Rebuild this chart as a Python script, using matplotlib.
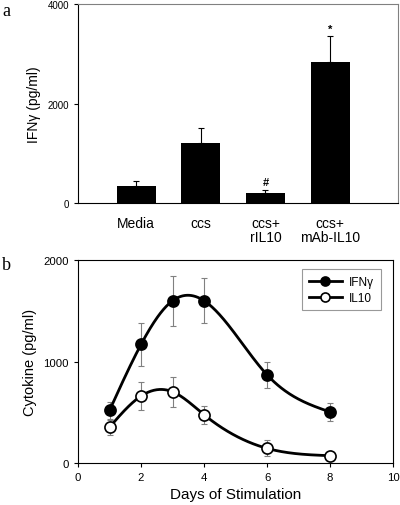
import numpy as np
import matplotlib
matplotlib.use("Agg")
import matplotlib.pyplot as plt

plt.rcParams['font.family'] = ['Liberation Sans', 'DejaVu Sans']

# Panel a data
categories = ["Media", "ccs", "ccs+\nrIL10", "ccs+\nmAb-IL10"]
ifng_bar = [350, 1200, 200, 2830]
ifng_bar_err = [100, 300, 60, 520]
bar_marks = ["", "", "#", "*"]

# Panel b data
days = [1, 2, 3, 4, 6, 8]
ifng = [520, 1170, 1600, 1600, 870, 505]
ifng_err = [85, 210, 245, 220, 125, 90]
il10 = [355, 662, 704, 478, 147, 75]
il10_err = [75, 135, 150, 90, 80, 10]


def natural_spline(x, y, n=300):
    x = np.asarray(x, float); y = np.asarray(y, float)
    k = len(x); h = np.diff(x)
    A = np.zeros((k, k)); b = np.zeros(k)
    A[0, 0] = 1; A[-1, -1] = 1
    for i in range(1, k - 1):
        A[i, i - 1] = h[i - 1]; A[i, i] = 2 * (h[i - 1] + h[i]); A[i, i + 1] = h[i]
        b[i] = 3 * ((y[i + 1] - y[i]) / h[i] - (y[i] - y[i - 1]) / h[i - 1])
    c = np.linalg.solve(A, b)
    xs = np.linspace(x[0], x[-1], n); ys = np.empty_like(xs)
    for j, xv in enumerate(xs):
        i = min(np.searchsorted(x, xv, side='right') - 1, k - 2)
        dx = xv - x[i]
        bi = (y[i + 1] - y[i]) / h[i] - h[i] * (c[i + 1] + 2 * c[i]) / 3
        di = (c[i + 1] - c[i]) / (3 * h[i])
        ys[j] = y[i] + bi * dx + c[i] * dx ** 2 + di * dx ** 3
    return xs, ys


fig = plt.figure(figsize=(4.0, 5.06), dpi=100)

# ---- Panel a ----
ax1 = fig.add_axes([0.195, 0.5968, 0.80, 0.3932])
xpos = np.arange(1, len(categories) + 1)
ax1.bar(xpos, ifng_bar, width=0.6, color='black', zorder=2)
ax1.errorbar(xpos, ifng_bar, yerr=[np.zeros(len(xpos)), ifng_bar_err], fmt='none',
             ecolor='black', elinewidth=0.8, capsize=2.5, capthick=0.8, zorder=1)
for x, v, e, m in zip(xpos, ifng_bar, ifng_bar_err, bar_marks):
    if m:
        ax1.text(x, v + e + 60, m, ha='center', va='bottom', fontsize=8, fontweight='bold')
ax1.set_xlim(0.1, 5.05)
ax1.set_ylim(0, 4000)
ax1.set_yticks([0, 2000, 4000])
ax1.tick_params(axis='y', labelsize=7, length=3, width=0.8, direction='out')
ax1.set_xticks(xpos)
ax1.set_xticklabels(categories, fontsize=10, linespacing=1.05)
ax1.tick_params(axis='x', length=0, pad=9)
ax1.set_ylabel("IFNγ (pg/ml)", fontsize=10, labelpad=5)
for s in ['top', 'right']:
    ax1.spines[s].set_color('#808080')
    ax1.spines[s].set_linewidth(0.8)
for s in ['left', 'bottom']:
    ax1.spines[s].set_linewidth(0.8)
fig.text(0.005, 0.995, "a", fontsize=13, family='Liberation Serif', va='top')

# ---- Panel b ----
ax2 = fig.add_axes([0.195, 0.0824, 0.788, 0.4016])
for yv, ye, face, lab in [(ifng, ifng_err, 'black', 'IFNγ'), (il10, il10_err, 'white', 'IL10')]:
    xs, ys = natural_spline(days, yv)
    ax2.errorbar(days, yv, yerr=ye, fmt='none', ecolor='#808080', elinewidth=0.8,
                 capsize=2.5, capthick=0.8, zorder=1)
    ax2.plot(xs, ys, color='black', lw=2, zorder=2)
    ax2.plot(days, yv, 'o', color='black', mfc=face, mec='black', ms=8, mew=1.2, zorder=3)
    ax2.plot([], [], '-o', color='black', mfc=face, mec='black', ms=6.5, mew=1.2, lw=2, label=lab)
ax2.set_xlim(0, 10)
ax2.set_ylim(0, 2000)
ax2.set_xticks([0, 2, 4, 6, 8, 10])
ax2.set_yticks([0, 1000, 2000])
ax2.tick_params(labelsize=8.2, length=3, width=0.8, direction='out')
ax2.set_xlabel("Days of Stimulation", fontsize=11, labelpad=3)
ax2.set_ylabel("Cytokine (pg/ml)", fontsize=10.5, labelpad=5)
for s in ax2.spines.values():
    s.set_linewidth(0.8)
leg = ax2.legend(loc='upper right', fontsize=8.5, frameon=True, fancybox=False,
                 handlelength=2.8, handletextpad=0.6, borderpad=0.55, labelspacing=0.35,
                 borderaxespad=0, bbox_to_anchor=(0.96, 0.955))
leg.get_frame().set_edgecolor('#808080')
leg.get_frame().set_linewidth(0.8)
fig.text(0.005, 0.492, "b", fontsize=13, family='Liberation Serif', va='top')

fig.savefig("out.png", dpi=100)
